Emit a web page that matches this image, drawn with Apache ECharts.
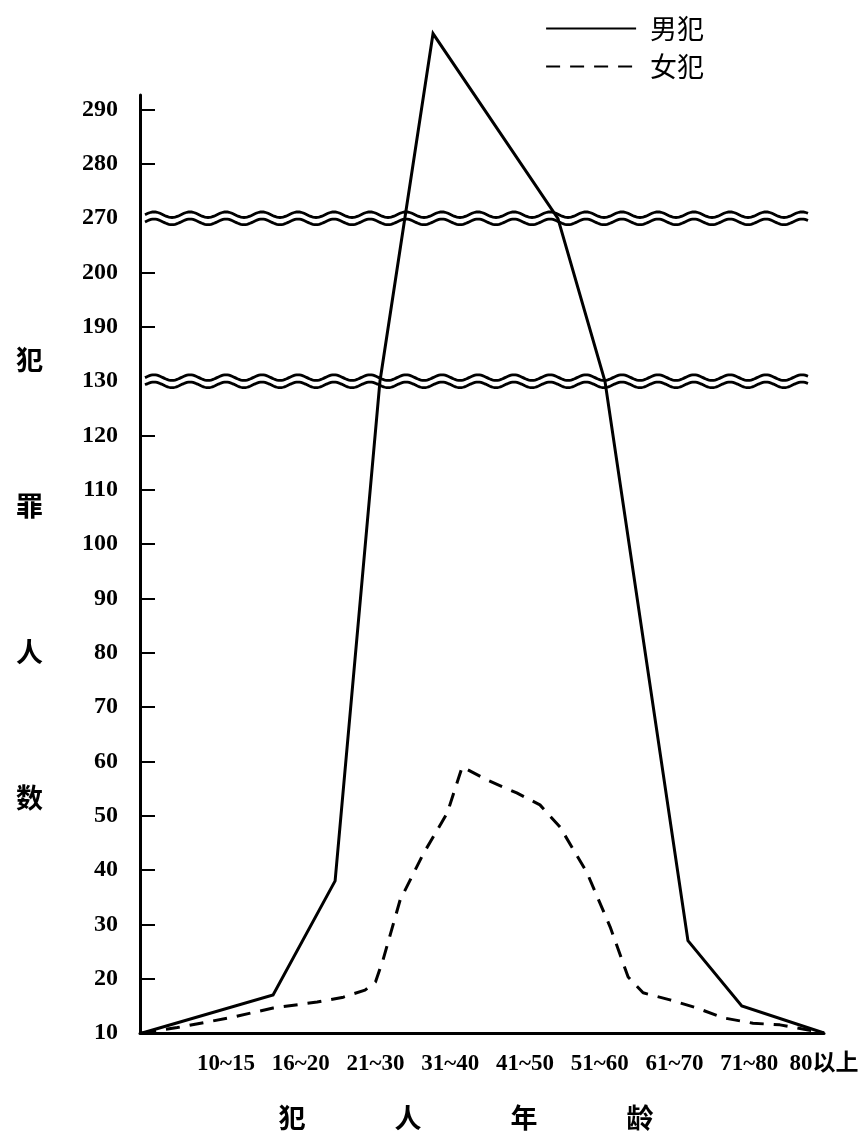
<!DOCTYPE html>
<html><head><meta charset="utf-8">
<script src="https://cdn.jsdelivr.net/npm/echarts@6/dist/echarts.min.js"></script>
<style>html,body{margin:0;padding:0;background:#fff}#c{width:862px;height:1136px}</style>
</head><body><div id="c"></div>
<script>
// ---- data ----
const yTickLabels = [10,20,30,40,50,60,70,80,90,100,110,120,130,190,200,270,280,290];
const yBreakValues = [130, 270];
const xLabels = ['10~15','16~20','21~30','31~40','41~50','51~60','61~70','71~80','80以上'];
const seriesNames = ['男犯','女犯'];
// x positions in age-group units (1 = "10~15" ... 9 = "80以上")
const malePos    = [-0.12, 1.63, 2.46, 3.06, 3.77, 5.44, 6.07, 7.18, 7.90, 9.0];
const maleValues = [10,    17,   38,   130,  304,  270,  130,  27,   15,   10];
const femalePos    = [-0.12, 0.35, 1.05, 1.63, 2.22, 2.57, 2.86, 3.00, 3.10, 3.33, 3.64, 3.96, 4.16, 4.49, 4.89, 5.20, 5.47, 5.83, 6.14, 6.38, 6.58, 6.94, 7.30, 7.65, 8.05, 8.41, 9.0];
const femaleValues = [10,    11,   12.8, 14.6, 15.7, 16.6, 17.9, 19.4, 23.4, 34.5, 43,   50.5, 59,   56.6, 54.2, 52,   47.9, 39.5, 29.5, 20.3, 17.4, 16.1, 14.6, 12.8, 11.8, 11.5, 10];

// broken-axis scale: real value -> axis position (one step per tick label)
function toAxis(v){
  const t = yTickLabels, n = t.length - 1;
  if (v <= t[0]) return (v - t[0]) / (t[1] - t[0]);
  for (let i = 0; i < n; i++) if (v <= t[i+1]) return i + (v - t[i]) / (t[i+1] - t[i]);
  return n + (v - t[n]) / (t[n] - t[n-1]);
}
const pair = (xs, vs) => xs.map((x, i) => [x, toAxis(vs[i])]);

const BREAK_END = 8.8;
const serif = "'Liberation Serif','Noto Sans CJK SC',serif";
const cjk = "'Noto Sans CJK SC',sans-serif";
const allIdx = yTickLabels.map((_, i) => i);
const breakIdx = yBreakValues.map(v => toAxis(v));

const chart = echarts.init(document.getElementById('c'));
chart.setOption({
  animation: false,
  backgroundColor: '#fff',
  grid: { left: 140, right: 38, top: 95, bottom: 103, containLabel: false },
  legend: {
    orient: 'vertical', left: 540, top: 10, itemWidth: 90, itemHeight: 28, itemGap: 11,
    data: seriesNames,
    itemStyle: { color: 'rgba(0,0,0,0)', borderColor: 'rgba(0,0,0,0)', borderWidth: 0, opacity: 0 },
    lineStyle: { width: 2.2 },
    textStyle: { fontFamily: cjk, fontSize: 27, color: '#000', padding: [0,0,0,9] }
  },
  xAxis: {
    type: 'value', min: -0.15, max: 9,
    axisLine: { onZero: false, lineStyle: { color: '#000', width: 3 } },
    axisTick: { show: false },
    splitLine: { show: false },
    axisLabel: {
      customValues: xLabels.map((_, i) => i + 1),
      formatter: v => xLabels[Math.round(v) - 1] || '',
      margin: 20, fontFamily: serif, fontSize: 23, fontWeight: 'bold', color: '#000'
    },
    name: '{a|犯}{a|人}{a|年}{a|龄}{p| }',
    nameLocation: 'middle', nameGap: 71,
    nameTextStyle: { rich: {
      a: { width: 116, align: 'center', fontFamily: cjk, fontSize: 27, fontWeight: 'bold', color: '#000' },
      p: { width: 32, fontSize: 27 }
    } }
  },
  yAxis: {
    type: 'value', min: 0, max: 17.27,
    axisLine: { show: true, onZero: false, lineStyle: { color: '#000', width: 3 } },
    axisTick: { show: true, inside: true, length: 15, lineStyle: { color: '#000', width: 2 },
      customValues: allIdx.filter(i => !breakIdx.includes(i)) },
    splitLine: { show: false },
    axisLabel: {
      customValues: allIdx,
      formatter: v => String(yTickLabels[Math.round(v)]),
      margin: 22, fontFamily: serif, fontSize: 24, fontWeight: 'bold', color: '#000'
    }
  },
  graphic: [{
    type: 'text', left: 16, top: 287, z: 10,
    style: { text: '犯\n罪\n人\n数', font: 'bold 27px ' + cjk, lineHeight: 146, fill: '#000', textAlign: 'left' }
  }],
  series: [
    {
      type: 'custom', silent: true, z: 1,
      data: breakIdx.map(i => [0, i]),
      renderItem(params, api) {
        const y = api.coord([0, api.value(1)])[1];
        const x0 = params.coordSys.x + 5;
        const x1 = api.coord([BREAK_END, 0])[0];
        const period = 36, amp = 2.8, sep = 3.6;
        const make = off => { const p = []; for (let x = x0; x <= x1; x += 1.5) p.push([x, y + off - amp * Math.sin((x - x0) / period * 2 * Math.PI)]); return p; };
        return { type: 'group', children: [
          { type: 'polyline', shape: { points: make(-sep) }, style: { stroke: '#000', lineWidth: 2.8, fill: null } },
          { type: 'polyline', shape: { points: make(sep) }, style: { stroke: '#000', lineWidth: 2.8, fill: null } }
        ] };
      }
    },
    {
      name: seriesNames[0], type: 'line', z: 3, clip: false, symbol: 'none',
      data: pair(malePos, maleValues),
      lineStyle: { color: '#000', width: 3, join: 'miter' }, itemStyle: { color: '#000' }
    },
    {
      name: seriesNames[1], type: 'line', z: 3, clip: false, symbol: 'none',
      data: pair(femalePos, femaleValues),
      lineStyle: { color: '#000', width: 3, type: [14, 10] }, itemStyle: { color: '#000' }
    }
  ]
});
</script></body></html>
